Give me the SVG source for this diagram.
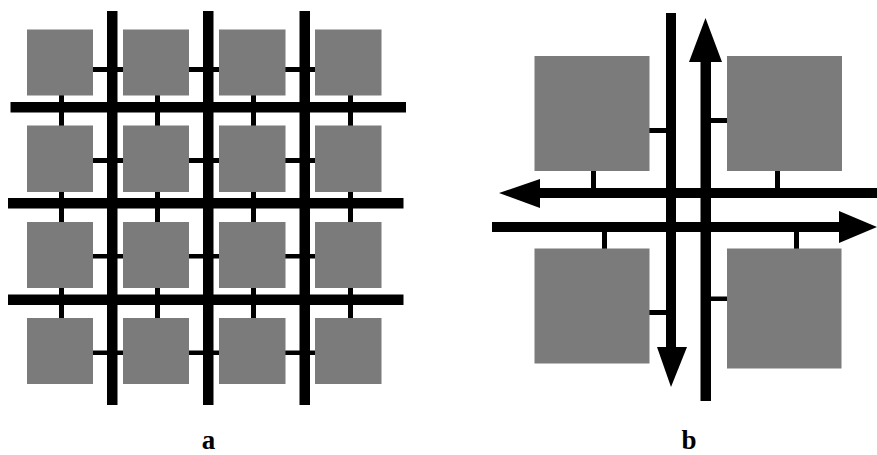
<svg xmlns="http://www.w3.org/2000/svg" width="877" height="455" viewBox="0 0 877 455">
<style>
.blk{fill:#7b7b7b}
.bus{fill:#000}
.stub{fill:#000}
.lbl{font-family:"Liberation Serif","Times New Roman",serif;font-weight:bold;font-size:27px;fill:#000;text-anchor:middle}
</style>
<rect width="877" height="455" fill="#fff"/>
<!-- Panel a connectors -->
<g id="connectors-a">
  <!-- horizontal stubs -->
  <rect class="stub" x="93" y="67" width="30" height="5"/>
  <rect class="stub" x="189" y="67" width="30" height="5"/>
  <rect class="stub" x="285" y="67" width="30" height="5"/>
  <rect class="stub" x="93" y="158" width="30" height="5"/>
  <rect class="stub" x="189" y="158" width="30" height="5"/>
  <rect class="stub" x="285" y="158" width="30" height="5"/>
  <rect class="stub" x="93" y="254" width="30" height="4.5"/>
  <rect class="stub" x="189" y="254" width="30" height="4.5"/>
  <rect class="stub" x="285" y="254" width="30" height="4.5"/>
  <rect class="stub" x="93" y="350.5" width="30" height="4.5"/>
  <rect class="stub" x="189" y="350.5" width="30" height="4.5"/>
  <rect class="stub" x="285" y="350.5" width="30" height="4.5"/>
  <!-- vertical stubs -->
  <rect class="stub" x="59" y="95" width="5" height="31"/>
  <rect class="stub" x="155" y="95" width="5" height="31"/>
  <rect class="stub" x="251" y="95" width="5" height="31"/>
  <rect class="stub" x="348" y="95" width="5" height="31"/>
  <rect class="stub" x="59" y="191" width="5" height="31"/>
  <rect class="stub" x="155" y="191" width="5" height="31"/>
  <rect class="stub" x="251" y="191" width="5" height="31"/>
  <rect class="stub" x="348" y="191" width="5" height="31"/>
  <rect class="stub" x="59" y="287" width="5" height="31"/>
  <rect class="stub" x="155" y="287" width="5" height="31"/>
  <rect class="stub" x="251" y="287" width="5" height="31"/>
  <rect class="stub" x="348" y="287" width="5" height="31"/>
  <!-- buses -->
  <rect class="bus" x="107" y="11" width="10.5" height="394"/>
  <rect class="bus" x="203" y="11" width="10.5" height="394"/>
  <rect class="bus" x="299.5" y="11" width="10.5" height="394"/>
  <rect class="bus" x="10.5" y="102" width="395.5" height="10.5"/>
  <rect class="bus" x="8" y="198" width="395.5" height="10.5"/>
  <rect class="bus" x="8" y="294.5" width="395.5" height="10.5"/>
</g>
<!-- Panel a nodes -->
<g id="a-r1c1"><rect class="blk" x="27" y="29.5" width="66" height="66"/></g>
<g id="a-r1c2"><rect class="blk" x="123" y="29.5" width="66" height="66"/></g>
<g id="a-r1c3"><rect class="blk" x="219" y="29.5" width="66.5" height="66"/></g>
<g id="a-r1c4"><rect class="blk" x="315" y="29.5" width="66.5" height="66"/></g>
<g id="a-r2c1"><rect class="blk" x="27" y="125.5" width="66" height="66.5"/></g>
<g id="a-r2c2"><rect class="blk" x="123" y="125.5" width="66" height="66.5"/></g>
<g id="a-r2c3"><rect class="blk" x="219" y="125.5" width="66.5" height="66.5"/></g>
<g id="a-r2c4"><rect class="blk" x="315" y="125.5" width="66.5" height="66.5"/></g>
<g id="a-r3c1"><rect class="blk" x="27" y="222" width="66" height="66"/></g>
<g id="a-r3c2"><rect class="blk" x="123" y="222" width="66" height="66"/></g>
<g id="a-r3c3"><rect class="blk" x="219" y="222" width="66.5" height="66"/></g>
<g id="a-r3c4"><rect class="blk" x="315" y="222" width="66.5" height="66"/></g>
<g id="a-r4c1"><rect class="blk" x="27" y="318" width="66" height="66"/></g>
<g id="a-r4c2"><rect class="blk" x="123" y="318" width="66" height="66"/></g>
<g id="a-r4c3"><rect class="blk" x="219" y="318" width="66.5" height="66"/></g>
<g id="a-r4c4"><rect class="blk" x="315" y="318" width="66.5" height="66"/></g>

<!-- Panel b connectors -->
<g id="connectors-b">
  <!-- stubs -->
  <rect class="stub" x="649" y="128" width="17" height="5"/>
  <rect class="stub" x="591" y="170" width="5" height="18"/>
  <rect class="stub" x="711" y="118" width="16" height="5"/>
  <rect class="stub" x="775" y="170" width="5" height="18"/>
  <rect class="stub" x="602" y="232" width="5" height="17"/>
  <rect class="stub" x="649" y="310" width="17" height="5"/>
  <rect class="stub" x="794" y="232" width="5" height="17"/>
  <rect class="stub" x="711" y="296.5" width="16" height="4.5"/>
  <!-- leftward bus -->
  <rect class="bus" x="538" y="188" width="339" height="10"/>
  <polygon class="bus" points="499,193 540,179 540,208"/>
  <!-- rightward bus -->
  <rect class="bus" x="492" y="222" width="349" height="10"/>
  <polygon class="bus" points="877,227 839,211 839,243"/>
  <!-- downward bus -->
  <rect class="bus" x="666" y="13" width="10" height="336"/>
  <polygon class="bus" points="671,387 657,347 687,347"/>
  <!-- upward bus -->
  <rect class="bus" x="700.5" y="60" width="10.5" height="341"/>
  <polygon class="bus" points="705.5,18 689,62 722,62"/>
</g>
<!-- Panel b nodes -->
<g id="b-tl"><rect class="blk" x="534.5" y="56" width="115" height="115"/></g>
<g id="b-tr"><rect class="blk" x="727" y="56" width="115" height="115"/></g>
<g id="b-bl"><rect class="blk" x="534.5" y="248.5" width="115" height="115"/></g>
<g id="b-br"><rect class="blk" x="727" y="248.5" width="114.5" height="120"/></g>

<!-- Labels -->
<text class="lbl" x="208.5" y="449">a</text>
<text class="lbl" x="689" y="449">b</text>
</svg>
